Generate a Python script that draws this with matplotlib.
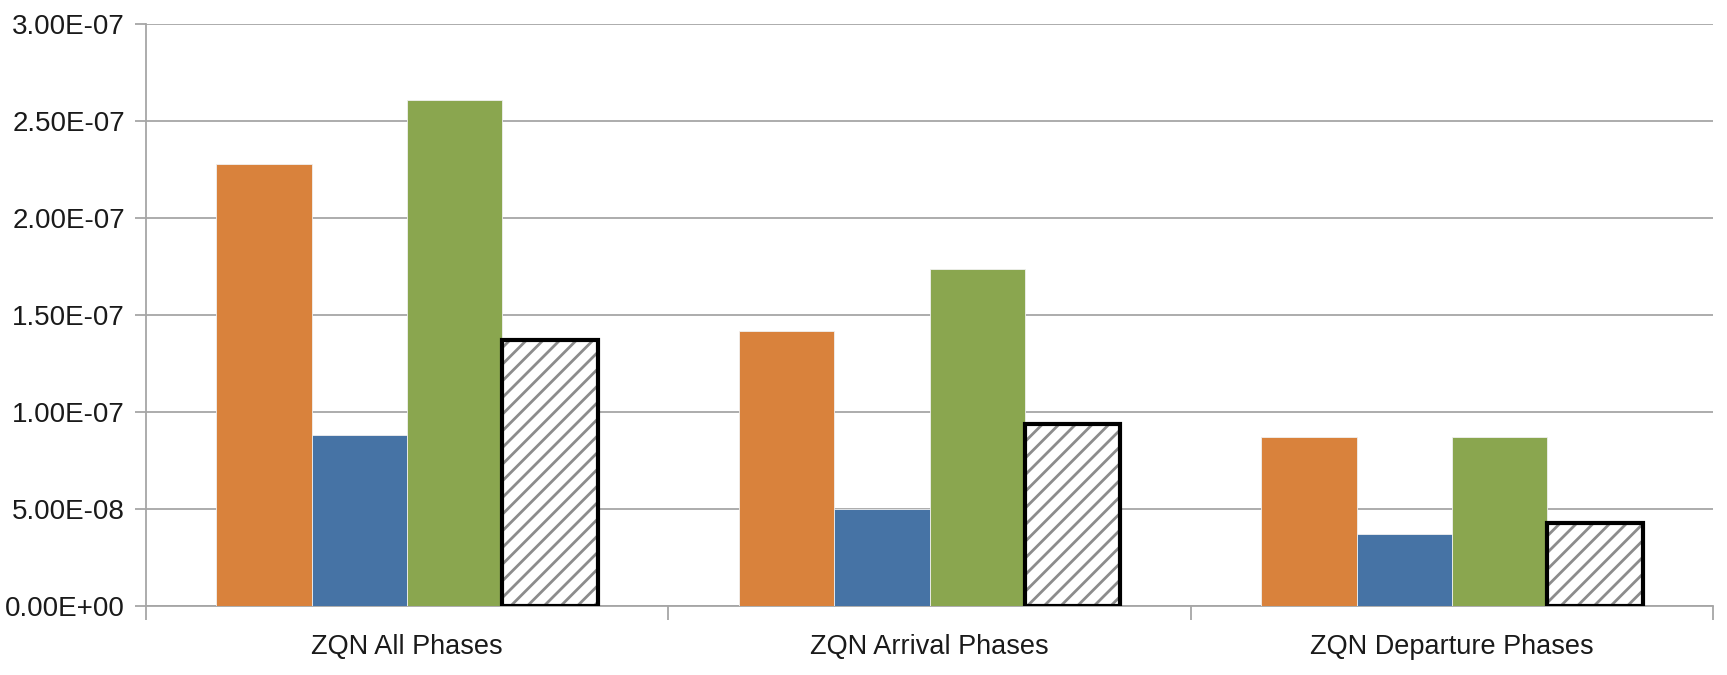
import matplotlib.pyplot as plt
import numpy as np
from matplotlib.ticker import FuncFormatter, MultipleLocator, FixedLocator

plt.rcParams['font.family'] = ['Liberation Sans Narrow', 'Liberation Sans', 'DejaVu Sans']

categories = ['ZQN All Phases', 'ZQN Arrival Phases', 'ZQN Departure Phases']
series_a = [2.28e-07, 1.42e-07, 0.87e-07]   # orange
series_b = [0.88e-07, 0.50e-07, 0.37e-07]   # blue
series_c = [2.61e-07, 1.74e-07, 0.87e-07]   # green
series_d = [1.37e-07, 0.94e-07, 0.43e-07]   # hatched

colors = ['#D9823C', '#4673A5', '#8AA64F']
width = 0.1825

fig = plt.figure(figsize=(17.27, 6.75), dpi=100)
ax = fig.add_axes([0.0845, 0.102, 0.9075, 0.862])

x = np.arange(len(categories))
offsets = np.array([-1.5, -0.5, 0.5, 1.5]) * width

for vals, c, off in zip([series_a, series_b, series_c], colors, offsets[:3]):
    ax.bar(x + off, vals, width, color=c, edgecolor='#f0f0f0', linewidth=0.6, zorder=3)

# hatched series: gray stripes first, then a heavy black outline on top
plt.rcParams['hatch.linewidth'] = 2.0
ax.bar(x + offsets[3], series_d, width, color='white', edgecolor='#8c8c8c',
       hatch='//', linewidth=0, zorder=3)
ax.bar(x + offsets[3], series_d, width, fill=False, edgecolor='black',
       linewidth=3.0, zorder=4)

ax.set_xlim(-0.5, len(categories) - 0.5)
ax.set_ylim(0, 3.0e-07)
ax.yaxis.set_major_locator(MultipleLocator(0.5e-07))
ax.yaxis.set_major_formatter(FuncFormatter(lambda v, p: f'{v:.2E}'))
ax.grid(axis='y', color='#a6a6a6', linewidth=1.3, zorder=0)
ax.set_axisbelow(True)

ax.set_xticks(x)
ax.set_xticklabels(categories)
ax.xaxis.set_minor_locator(FixedLocator(np.arange(len(categories) + 1) - 0.5))
ax.tick_params(axis='x', which='major', length=0, pad=20, labelsize=19.5, labelcolor='#1a1a1a')
ax.tick_params(axis='x', which='minor', length=10, color='#a6a6a6', width=1.3)
ax.tick_params(axis='y', length=8, color='#a6a6a6', width=1.3, labelsize=20,
               labelcolor='#1a1a1a', pad=7)

for s in ['top', 'right']:
    ax.spines[s].set_visible(False)
for s in ['left', 'bottom']:
    ax.spines[s].set_color('#a6a6a6')
    ax.spines[s].set_linewidth(1.3)

fig.savefig('out.png', dpi=100)
